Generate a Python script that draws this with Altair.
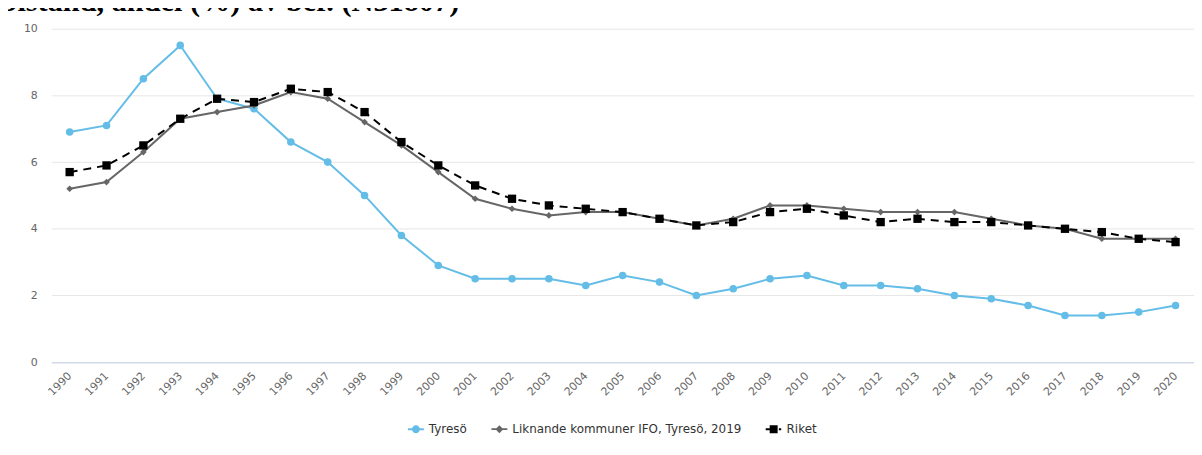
import altair as alt
import pandas as pd

# ---------------- data ----------------
TITLE = "bistånd, andel (%) av bef. (N31807)"
YEARS = [str(y) for y in range(1990, 2021)]
SERIES = ["Tyresö", "Liknande kommuner IFO, Tyresö, 2019", "Riket"]
TYRESO = [6.9, 7.1, 8.5, 9.5, 7.9, 7.6, 6.6, 6.0, 5.0, 3.8, 2.9, 2.5, 2.5, 2.5, 2.3, 2.6,
          2.4, 2.0, 2.2, 2.5, 2.6, 2.3, 2.3, 2.2, 2.0, 1.9, 1.7, 1.4, 1.4, 1.5, 1.7]
LIKNANDE = [5.2, 5.4, 6.3, 7.3, 7.5, 7.7, 8.1, 7.9, 7.2, 6.5, 5.7, 4.9, 4.6, 4.4, 4.5, 4.5,
            4.3, 4.1, 4.3, 4.7, 4.7, 4.6, 4.5, 4.5, 4.5, 4.3, 4.1, 4.0, 3.7, 3.7, 3.7]
RIKET = [5.7, 5.9, 6.5, 7.3, 7.9, 7.8, 8.2, 8.1, 7.5, 6.6, 5.9, 5.3, 4.9, 4.7, 4.6, 4.5,
         4.3, 4.1, 4.2, 4.5, 4.6, 4.4, 4.2, 4.3, 4.2, 4.2, 4.1, 4.0, 3.9, 3.7, 3.6]
Y_TICKS = [0, 2, 4, 6, 8, 10]

rows = []
for name, vals in zip(SERIES, [TYRESO, LIKNANDE, RIKET]):
    for yr, v in zip(YEARS, vals):
        rows.append({"year": yr, "value": v, "series": name})
df = pd.DataFrame(rows)

# ---------------- style ----------------
COLORS = ["#64bde6", "#666666", "#000000"]
SHAPES = ["circle", "diamond", "square"]
SIZES = [58, 45, 70]
DASHES = [None, None, [8, 6]]
FONT = "DejaVu Sans"

LEGEND_PATHS = [
    "M-1,-0.125L1,-0.125L1,0.125L-1,0.125Z"
    "M-0.5,0A0.5,0.5 0 1,1 0.5,0A0.5,0.5 0 1,1 -0.5,0Z",
    "M-1,-0.11L1,-0.11L1,0.11L-1,0.11Z"
    "M0,-0.5L0.5,0L0,0.5L-0.5,0Z",
    "M-1,-0.125L-0.5,-0.125L-0.5,0.125L-1,0.125Z"
    "M-0.5,-0.5L0.5,-0.5L0.5,0.5L-0.5,0.5Z"
    "M0.65,-0.125L0.95,-0.125L0.95,0.125L0.65,0.125Z",
]

x_enc = alt.X(
    "year:O",
    sort=YEARS,
    scale=alt.Scale(type="point", padding=0.5),
    axis=alt.Axis(
        title=None, labelAngle=-45, labelAlign="right", labelBaseline="middle",
        labelPadding=12, ticks=False, grid=False, domain=True,
        domainColor="#ccd6eb", domainWidth=1, labelColor="#666666",
        labelFont=FONT, labelFontSize=11, labelOverlap=False,
    ),
)
y_enc = alt.Y(
    "value:Q",
    scale=alt.Scale(domain=[0, 10], nice=False, zero=True),
    axis=alt.Axis(
        title=None, values=Y_TICKS, grid=True, gridColor="#e6e6e6", gridWidth=1,
        domain=False, ticks=False, labelPadding=14, labelColor="#666666",
        labelFont=FONT, labelFontSize=11,
    ),
)

layers = []
for i, name in enumerate(SERIES):
    base = alt.Chart(df).transform_filter(alt.datum.series == name)
    line_kwargs = dict(color=COLORS[i], strokeWidth=2)
    if DASHES[i]:
        line_kwargs["strokeDash"] = DASHES[i]
    layers.append(base.mark_line(**line_kwargs).encode(x=x_enc, y=y_enc))
    layers.append(
        base.mark_point(filled=True, shape=SHAPES[i], size=SIZES[i],
                        color=COLORS[i], opacity=1).encode(x=x_enc, y=y_enc)
    )

legend = alt.Legend(
    title=None, orient="none", legendX=359, legendY=395, direction="horizontal",
    columns=3, symbolSize=256, symbolStrokeWidth=0, symbolOpacity=1,
    labelFont=FONT, labelFontSize=12, labelColor="#333333", labelOffset=5,
    columnPadding=24, padding=0, labelLimit=400,
)
legend_layer = (
    alt.Chart(df)
    .transform_filter("false")
    .mark_point(filled=True, opacity=1)
    .encode(
        color=alt.Color("series:N", scale=alt.Scale(domain=SERIES, range=COLORS), legend=legend),
        shape=alt.Shape("series:N", scale=alt.Scale(domain=SERIES, range=LEGEND_PATHS), legend=legend),
    )
)

title_layer = (
    alt.Chart(pd.DataFrame({"t": [TITLE]}))
    .mark_text(align="left", baseline="alphabetic", font="Liberation Serif",
               fontSize=30.5, fontWeight="bold", color="#000000")
    .encode(x=alt.value(-51), y=alt.value(-18), text="t:N")
)

chart = (
    alt.layer(*layers, legend_layer, title_layer)
    .properties(
        width=1150, height=335.5,
        padding={"left": 43.5, "top": 19.5, "right": 0, "bottom": 77},
        autosize=alt.AutoSizeParams(type="none"),
        background="white",
    )
    .configure_view(stroke=None)
)

chart.save("out.html", embed_options={"renderer": "svg", "actions": False})
